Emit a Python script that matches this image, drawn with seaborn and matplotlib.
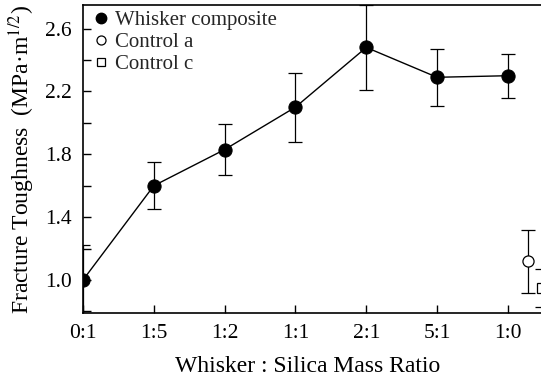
import matplotlib
matplotlib.use("Agg")
import matplotlib.pyplot as plt
import seaborn as sns
import pandas as pd
from matplotlib.lines import Line2D
from matplotlib.ticker import MultipleLocator

ratios = ["0:1", "1:5", "1:2", "1:1", "2:1", "5:1", "1:0"]
toughness = [1.00, 1.60, 1.83, 2.10, 2.48, 2.29, 2.30]
tough_err = [0.22, 0.15, 0.16, 0.22, 0.27, 0.18, 0.14]

control_a_x = [6.28]
control_a = [1.12]
control_a_err = [0.20]
control_c_x = [6.48]
control_c = [0.95]
control_c_err = [0.12]

sns.set_theme(style="ticks")
plt.rcParams["font.family"] = ["Liberation Serif", "DejaVu Serif"]
plt.rcParams["mathtext.fontset"] = "stix"

df = pd.DataFrame({"pos": range(len(ratios)), "ratio": ratios, "k": toughness, "err": tough_err})

fig = plt.figure(figsize=(5.41, 3.87), dpi=100)
ax = fig.add_axes([83/541, 74/387, 1 - 83/541 + 0.02, 308/387])

ax.errorbar(df["pos"], df["k"], yerr=df["err"], fmt="none", ecolor="black",
            elinewidth=0.9, capsize=5, capthick=0.9, zorder=2)
sns.lineplot(data=df, x="pos", y="k", ax=ax, color="black", lw=1.0,
             marker="o", markersize=9.5, markerfacecolor="black",
             markeredgecolor="black", zorder=3)

ax.errorbar(control_a_x, control_a, yerr=control_a_err, fmt="o", ms=8,
            mfc="white", mec="black", mew=0.9, ecolor="black",
            elinewidth=0.9, capsize=5, capthick=0.9, zorder=3)
ax.errorbar(control_c_x, control_c, yerr=control_c_err, fmt="s", ms=6.5,
            mfc="white", mec="black", mew=0.9, ecolor="black",
            elinewidth=0.9, capsize=5, capthick=0.9, zorder=3)

ax.set_xlim(0, 6.62)
ax.set_ylim(0.79, 2.75)
ax.set_xticks(range(len(ratios)))
ax.set_xticklabels(ratios)
ax.yaxis.set_minor_locator(MultipleLocator(0.2))
ax.set_yticks([1.0, 1.4, 1.8, 2.2, 2.6])
ax.set_yticklabels(["1.0", "1.4", "1.8", "2.2", "2.6"])

ax.tick_params(axis="both", which="both", direction="in", length=6, width=1,
               labelsize=15.5, colors="black", pad=8)
for s in ["left", "bottom", "top"]:
    ax.spines[s].set_color("black")
    ax.spines[s].set_linewidth(1.2)
ax.spines["right"].set_visible(False)

ax.set_xlabel("Whisker : Silica Mass Ratio", fontsize=17, labelpad=10, color="black")
ax.xaxis.set_label_coords(0.48, -0.14)
ax.set_ylabel("Fracture Toughness  (MPa·m$^{1/2}$)", fontsize=17, labelpad=6, color="black")

handles = [
    Line2D([], [], ls="none", marker="o", ms=7.5, mfc="black", mec="black"),
    Line2D([], [], ls="none", marker="o", ms=6.5, mfc="white", mec="black", mew=0.9),
    Line2D([], [], ls="none", marker="s", ms=5.5, mfc="white", mec="black", mew=0.9),
]
ax.legend(handles, ["Whisker composite", "Control a", "Control c"], loc="upper left",
          bbox_to_anchor=(-0.01, 1.03), frameon=False, fontsize=15, handlelength=0.8,
          handletextpad=0.25, labelspacing=0.12, borderaxespad=0.3)

fig.savefig("out.png", dpi=100)
